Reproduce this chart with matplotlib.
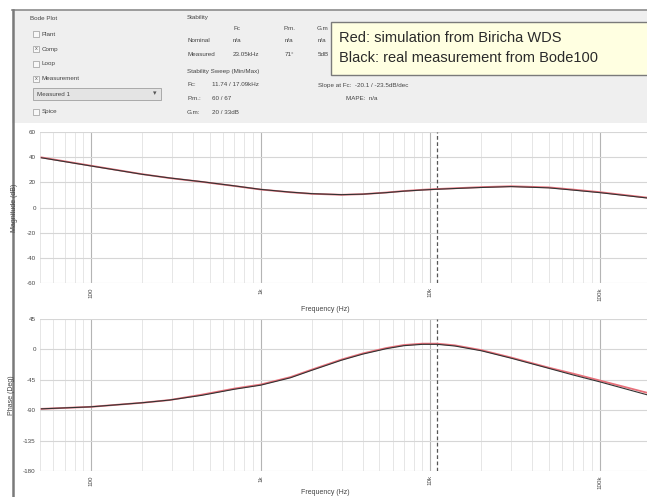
#!/usr/bin/env python3
"""
Bode100 screenshot: compensator simulation (red) vs. measurement (black).
"""

import matplotlib
matplotlib.use("Agg")
import matplotlib.pyplot as plt
from matplotlib.patches import Rectangle
from matplotlib.ticker import FixedLocator, LogLocator, NullFormatter

# --- data ----------------------------------------------------------------
freq = [51, 100, 200, 290, 450, 700, 1000, 1500, 2000, 3000, 4000, 5500,
        7000, 9000, 11000, 14000, 20000, 30000, 50000, 70000, 100000, 189000]

mag_meas = [39.5, 33.0, 26.4, 23.5, 20.5, 17.2, 14.4, 12.2, 11.0, 10.2,
            10.6, 11.8, 13.0, 13.9, 14.5, 15.1, 15.9, 16.6, 15.6, 13.8, 11.8, 7.6]
mag_sim = [39.8, 33.2, 26.5, 23.4, 20.4, 17.1, 14.3, 12.1, 10.9, 10.1,
           10.6, 11.9, 13.1, 14.1, 14.7, 15.3, 16.2, 16.9, 16.0, 14.2, 12.2, 7.9]

phase_meas = [-88, -85, -79, -75, -68, -59, -53, -42, -31, -16, -7, 1,
              5.5, 7.5, 7.5, 5, -2, -13, -28, -38, -48, -67]
phase_sim = [-88, -85, -79, -75, -67, -58, -52, -41, -30, -15, -6, 2,
             6.5, 8.5, 8.5, 6, -1, -12, -27, -36, -46, -64]

fc_marker = 11000

mag_ticks = [60, 40, 20, 0, -20, -40, -60]
phase_ticks = [45, 0, -45, -90, -135, -180]
freq_ticks = [100, 1000, 10000, 100000]
freq_labels = ["100", "1k", "10k", "100k"]

panel_left = [("Bode Plot", 30, 18, None),
              ("Plant", 40, 34, False),
              ("Comp", 40, 49, True),
              ("Loop", 40, 64, False),
              ("Measurement", 40, 79, True),
              ("Spice", 40, 112, False)]

stab_texts = [("Stability", 187, 17),
              ("Fc", 233, 28), ("P.m.", 283, 28), ("G.m", 317, 28),
              ("Nominal", 187, 41), ("n/a", 233, 41), ("n/a", 285, 41), ("n/a", 318, 41),
              ("Measured", 187, 54), ("23.05kHz", 233, 54), ("71°", 285, 54), ("5dB", 318, 54),
              ("Stability Sweep (Min/Max)", 187, 71),
              ("Fc:", 187, 85), ("11.74 / 17.09kHz", 212, 85),
              ("P.m.:", 187, 99), ("60 / 67", 212, 99),
              ("G.m:", 187, 112), ("20 / 33dB", 212, 112),
              ("Slope at Fc:  -20.1 / -23.5dB/dec", 318, 85),
              ("MAPE:  n/a", 346, 98)]

note_lines = ["Red: simulation from Biricha WDS",
              "Black: real measurement from Bode100"]


def style_axes(ax, yticks, ylim, ylabel, xlabel_y):
    ax.set_xscale("log")
    ax.set_xlim(50, 190000)
    ax.set_ylim(*ylim)
    ax.yaxis.set_major_locator(FixedLocator(yticks))
    ax.set_yticklabels([str(t) for t in yticks], fontsize=4.5, color="#444444")
    ax.xaxis.set_major_locator(FixedLocator(freq_ticks))
    ax.set_xticklabels(freq_labels, rotation=90, fontsize=4.5, color="#444444")
    ax.xaxis.set_minor_locator(LogLocator(base=10, subs=range(2, 10), numticks=20))
    ax.xaxis.set_minor_formatter(NullFormatter())
    ax.tick_params(which="both", length=0, pad=3)
    ax.grid(True, which="major", axis="x", color="#b4b4b4", linewidth=0.8)
    ax.grid(True, which="minor", axis="x", color="#e2e2e2", linewidth=0.6)
    ax.grid(True, which="major", axis="y", color="#d6d6d6", linewidth=0.8)
    for s in ax.spines.values():
        s.set_visible(False)
    ax.set_ylabel(ylabel, fontsize=5, color="#444444", labelpad=6)
    ax.set_xlabel("Frequency (Hz)", fontsize=5, color="#444444")
    ax.xaxis.set_label_coords(0.47, xlabel_y)
    ax.axvline(fc_marker, color="#555555", linestyle=(0, (3, 2)), linewidth=0.9)


def main():
    plt.rcParams["font.family"] = ["Liberation Sans", "DejaVu Sans"]
    fig = plt.figure(figsize=(6.47, 4.97), dpi=100)

    # background "window" drawn in pixel coordinates
    bg = fig.add_axes([0, 0, 1, 1], zorder=0)
    bg.set_xlim(0, 647)
    bg.set_ylim(497, 0)
    bg.axis("off")
    bg.add_patch(Rectangle((12, 10), 640, 113, facecolor="#efefef", edgecolor="none"))
    bg.plot([12, 647], [10, 10], color="#8c8c8c", linewidth=1.2)
    bg.plot([12.5, 12.5], [10, 497], color="#7a7a7a", linewidth=1.8)

    for label, x, y, checked in panel_left:
        if checked is None:
            bg.text(x, y, label, fontsize=4.5, color="#444444", va="center")
            continue
        bg.add_patch(Rectangle((x - 7, y - 3), 6, 6, facecolor="#f8f8f8",
                               edgecolor="#9a9a9a", linewidth=0.5))
        if checked:
            bg.text(x - 4, y, "x", fontsize=4, color="#555555", ha="center", va="center")
        bg.text(x + 2, y, label, fontsize=4.5, color="#444444", va="center")

    bg.add_patch(Rectangle((33, 88), 128, 12, facecolor="#e4e4e4",
                           edgecolor="#a0a0a0", linewidth=0.6))
    bg.text(37, 94, "Measured 1", fontsize=4.5, color="#444444", va="center")
    bg.text(155, 94, "▾", fontsize=5, color="#555555", va="center", ha="center")

    for label, x, y in stab_texts:
        bg.text(x, y, label, fontsize=4.5, color="#444444", va="center")

    bg.add_patch(Rectangle((331, 22), 320, 53, facecolor="#ffffe1",
                           edgecolor="#7a7a7a", linewidth=1.0, zorder=3))
    for i, line in enumerate(note_lines):
        bg.text(339, 38 + i * 20, line, fontsize=10.5, color="#2a2a2a",
                va="center", zorder=4)

    # magnitude plot
    ax1 = fig.add_axes([40 / 647, 1 - 283 / 497, 607 / 647, 151 / 497], zorder=1)
    ax1.patch.set_alpha(0)
    style_axes(ax1, mag_ticks, (-60, 60), "Magnitude (dB)", -0.15)
    ax1.plot(freq, mag_sim, color="#e8707a", linewidth=1.3)
    ax1.plot(freq, mag_meas, color="#333333", linewidth=0.8)

    # phase plot
    ax2 = fig.add_axes([40 / 647, 1 - 471 / 497, 607 / 647, 152 / 497], zorder=1)
    ax2.patch.set_alpha(0)
    style_axes(ax2, phase_ticks, (-180, 45), "Phase (Deg)", -0.12)
    ax2.plot(freq, phase_sim, color="#e8707a", linewidth=1.3)
    ax2.plot(freq, phase_meas, color="#333333", linewidth=0.8)

    fig.savefig("out.png", dpi=100)


if __name__ == "__main__":
    main()
